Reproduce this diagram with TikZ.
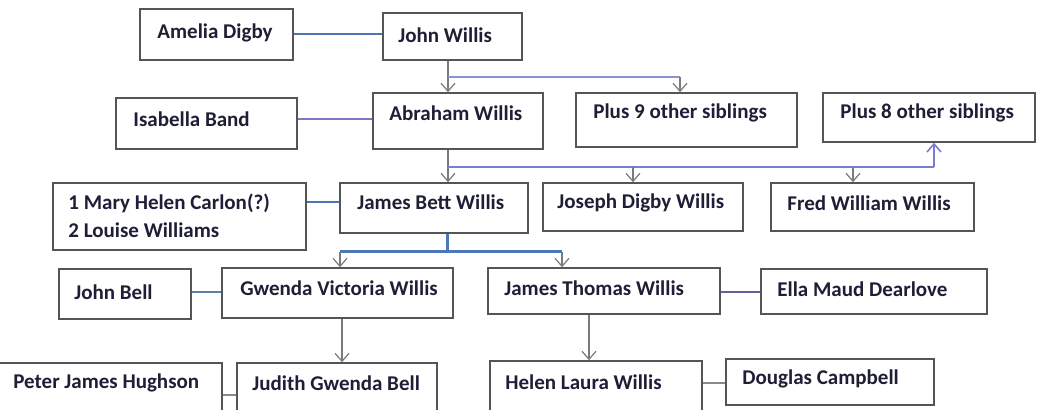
\documentclass[tikz,border=0pt]{standalone}
\usepackage{fontspec}
\setmainfont{Carlito}
\usetikzlibrary{arrows.meta,fit}
\definecolor{boxcol}{HTML}{555555}
\definecolor{txtcol}{HTML}{1E1E36}
\definecolor{bluel}{HTML}{4A74B4}
\definecolor{purpl}{HTML}{7A78C0}
\definecolor{purpd}{HTML}{6A5C9C}
\definecolor{bluegr}{HTML}{5880A8}
\definecolor{grayl}{HTML}{8A8A8A}
\definecolor{arrcol}{HTML}{7A7A7A}
\definecolor{brA}{HTML}{8F90D0}
\definecolor{brB}{HTML}{7C7CD0}
\definecolor{brC}{HTML}{4A78B8}
\begin{document}
\begin{tikzpicture}[x=0.5pt,y=-0.5pt,
  box/.style={draw=boxcol,line width=0.8pt,inner sep=0pt},
  lab/.style={inner sep=0pt,anchor=west,text=txtcol,font=\fontsize{10.5}{14}\selectfont\bfseries,align=left},
  bluethick/.style={draw=bluel,line width=1.4pt},
  purthin/.style={draw=purpl,line width=0.6pt},
  purmid/.style={draw=purpd,line width=1pt},
  bluegray/.style={draw=bluegr,line width=1.3pt},
  graythin/.style={draw=grayl,line width=0.6pt},
  arr/.style={draw=arrcol,line width=0.6pt,-{Straight Barb[length=4pt,width=7pt]}},
  branchA/.style={draw=brA,line width=0.8pt},
  branchB/.style={draw=brB,line width=0.8pt},
  branchC/.style={draw=brC,line width=1.5pt},
]
\useasboundingbox[fill=white] (0,0) rectangle (1038,410);
% boxes
\node[box,fit={(140,9) (293,60)}] (amelia) {};
\node[box,fit={(383,13) (522,60)}] (john) {};
\node[box,fit={(116,98) (297,149)}] (isabella) {};
\node[box,fit={(373,93) (543,149)}] (abraham) {};
\node[box,fit={(576,93) (797,147)}] (plus9) {};
\node[box,fit={(823,93) (1035,142)}] (plus8) {};
\node[box,fit={(53,183) (306,250)}] (mary) {};
\node[box,fit={(340,183) (528,233)}] (james) {};
\node[box,fit={(543,183) (743,231)}] (joseph) {};
\node[box,fit={(771,183) (974,231)}] (fred) {};
\node[box,fit={(59,269) (191,319)}] (johnbell) {};
\node[box,fit={(222,268) (453,318)}] (gwenda) {};
\node[box,fit={(488,268) (720,314)}] (jamest) {};
\node[box,fit={(761,269) (987,314)}] (ella) {};
\node[box,fit={(-2,363) (222,416)}] (peter) {};
\node[box,fit={(237,363) (437,416)}] (judith) {};
\node[box,fit={(490,361) (702,416)}] (helen) {};
\node[box,fit={(726,359) (934,405)}] (douglas) {};
% texts
\node[lab] (amelia-t) at (157,33) {Amelia Digby};
\node[lab] (john-t) at (398,35) {John Willis};
\node[lab] (isabella-t) at (133,119) {Isabella Band};
\node[lab] (abraham-t) at (389,113) {Abraham Willis};
\node[lab] (plus9-t) at (593,113) {Plus 9 other siblings};
\node[lab] (plus8-t) at (840,113) {Plus 8 other siblings};
\node[lab] (mary-t) at (68,216) {1 Mary Helen Carlon(?)\\2 Louise Williams};
\node[lab] (james-t) at (357,202) {James Bett Willis};
\node[lab] (joseph-t) at (557,203) {Joseph Digby Willis};
\node[lab] (fred-t) at (787,203) {Fred William Willis};
\node[lab] (johnbell-t) at (74,292) {John Bell};
\node[lab] (gwenda-t) at (240,288) {Gwenda Victoria Willis};
\node[lab] (jamest-t) at (504,288) {James Thomas Willis};
\node[lab] (ella-t) at (777,289) {Ella Maud Dearlove};
\node[lab] (peter-t) at (13,383) {Peter James Hughson};
\node[lab] (judith-t) at (252,383) {Judith Gwenda Bell};
\node[lab] (helen-t) at (505,382) {Helen Laura Willis};
\node[lab] (douglas-t) at (742,379) {Douglas Campbell};
% junction coordinates
\coordinate (jA) at (448,77);
\coordinate (jAr) at (680,77);
\coordinate (jB) at (448,167);
\coordinate (jBjo) at (633,167);
\coordinate (jBfr) at (853,167);
\coordinate (jBr) at (934,167);
\coordinate (jC) at (447,252);
\coordinate (jCl) at (340,252);
\coordinate (jCr) at (562,252);
\coordinate (mA) at (0,34);
\coordinate (mB) at (0,119);
\coordinate (mC) at (0,202);
\coordinate (mD) at (0,292);
\coordinate (mE) at (0,395);
\coordinate (mF) at (0,383);
\coordinate (gw) at (342,0);
\coordinate (jt) at (589,0);
% marriages
\draw[bluethick] (mA -| amelia.east) -- (mA -| john.west);
\draw[purthin] (mB -| isabella.east) -- (mB -| abraham.west);
\draw[bluethick] (mC -| mary.east) -- (mC -| james.west);
\draw[bluegray] (mD -| johnbell.east) -- (mD -| gwenda.west);
\draw[purmid] (mD -| jamest.east) -- (mD -| ella.west);
\draw[graythin] (mE -| peter.east) -- (mE -| judith.west);
\draw[graythin] (mF -| helen.east) -- (mF -| douglas.west);
% John Willis children
\draw[arr] (jA |- john.south) -- (jA |- abraham.north);
\draw[branchA] (jA) -- (jAr);
\draw[arr] (jAr) -- (jAr |- plus9.north);
% Abraham children
\draw[arr] (jB |- abraham.south) -- (jB |- james.north);
\draw[branchB] (jB) -- (jBr);
\draw[arr] (jBjo) -- (jBjo |- joseph.north);
\draw[arr] (jBfr) -- (jBfr |- fred.north);
\draw[branchB,-{Straight Barb[length=4pt,width=7pt]}] (jBr) -- (jBr |- plus8.south);
% James Bett children
\draw[branchC] (jC |- james.south) -- (jC);
\draw[branchC] (jCl) -- (jCr);
\draw[arr] (jCl) -- (jCl |- gwenda.north);
\draw[arr] (jCr) -- (jCr |- jamest.north);
% grandchildren
\draw[arr] (gw |- gwenda.south) -- (gw |- judith.north);
\draw[arr] (jt |- jamest.south) -- (jt |- helen.north);
\end{tikzpicture}
\end{document}
